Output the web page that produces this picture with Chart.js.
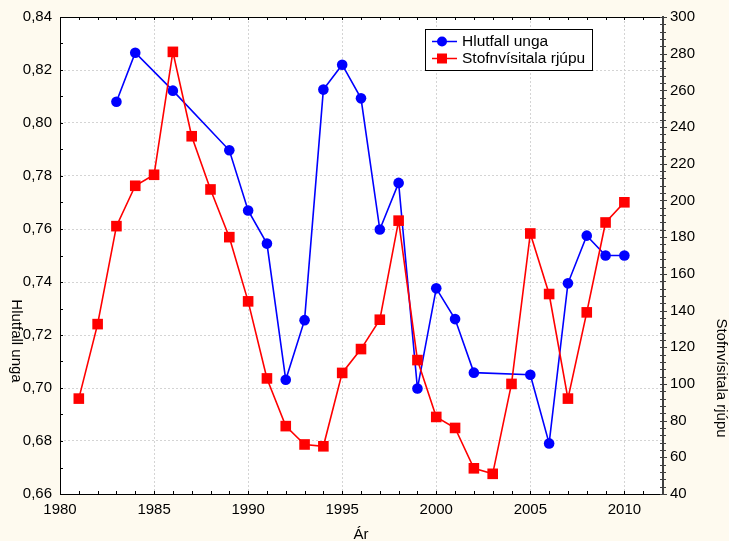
<!DOCTYPE html>
<html>
<head>
<meta charset="utf-8">
<script src="https://cdn.jsdelivr.net/npm/chart.js@4.4.0/dist/chart.umd.min.js"></script>
<style>
  html, body { margin: 0; padding: 0; background: #fefaef; }
  #wrap { width: 729px; height: 541px; }
</style>
</head>
<body>
<div id="wrap"><canvas id="c" width="729" height="541"></canvas></div>
<script>
// ---- data ----
const years = [1981,1982,1983,1984,1985,1986,1987,1988,1989,1990,1991,1992,1993,1994,1995,1996,1997,1998,1999,2000,2001,2002,2003,2004,2005,2006,2007,2008,2009,2010];
const hlutfallUnga = [null,null,0.808,0.8265,null,0.8122,null,null,0.7897,0.767,0.7545,0.7031,0.7256,0.8126,0.822,0.8093,0.7598,0.7774,0.6998,0.7376,0.726,0.7058,null,null,0.705,0.6791,0.7395,0.7575,0.75,0.75];
const stofnvisitala = [92,132.6,186,208,214,281,235,206,180,145,103,77,67,66,106,119,135,189,113,82,76,54,51,100,182,149,92,139,188,199];
const xTickLabels = [1980,1985,1990,1995,2000,2005,2010];
const leftTicks = [0.66,0.68,0.70,0.72,0.74,0.76,0.78,0.80,0.82,0.84];
const rightTicks = [40,60,80,100,120,140,160,180,200,220,240,260,280,300];
const seriesNames = ['Hlutfall unga','Stofnvísitala rjúpu'];
const axisTitles = {x:'Ár', left:'Hlutfall unga', right:'Stofnvísitala rjúpu'};

const FONT = '15px "Liberation Sans", Arial, sans-serif';
const BLUE = '#0000ff', RED = '#ff0000';

const bgPlugin = {
  id: 'bg',
  beforeDraw(chart) {
    const {ctx, chartArea: a} = chart;
    ctx.save();
    ctx.fillStyle = '#fefaef';
    ctx.fillRect(0, 0, chart.width, chart.height);
    ctx.fillStyle = '#ffffff';
    ctx.fillRect(a.left, a.top, a.right - a.left, a.bottom - a.top);
    ctx.restore();
  }
};

const framePlugin = {
  id: 'frame',
  afterDraw(chart) {
    const {ctx, chartArea: a, scales} = chart;
    const sx = scales.x, sy = scales.y, sy1 = scales.y1;
    ctx.save();
    ctx.strokeStyle = '#000';
    ctx.lineWidth = 1;
    ctx.beginPath();
    ctx.moveTo(a.left + 0.5, a.bottom + 0.5);
    ctx.lineTo(a.left + 0.5, a.top + 0.5);
    ctx.lineTo(a.right, a.top + 0.5);
    ctx.moveTo(a.left, a.bottom + 0.5);
    ctx.lineTo(a.right, a.bottom + 0.5);
    ctx.stroke();
    ctx.beginPath();
    for (let yv = 1980; yv <= 2012; yv++) {
      const px = Math.round(sx.getPixelForValue(yv)) + 0.5;
      ctx.moveTo(px, a.top); ctx.lineTo(px, a.top + 3);
      ctx.moveTo(px, a.bottom); ctx.lineTo(px, a.bottom - 3);
    }
    for (let i = 0; i <= 18; i++) {
      const v = 0.66 + i * 0.01;
      const py = Math.round(sy.getPixelForValue(v)) + 0.5;
      ctx.moveTo(a.left, py); ctx.lineTo(a.left + 3, py);
    }
    ctx.stroke();
    ctx.strokeStyle = '#404040';
    ctx.lineWidth = 2;
    ctx.beginPath();
    ctx.moveTo(a.right + 1, a.top - 1);
    ctx.lineTo(a.right + 1, a.bottom + 1);
    ctx.stroke();
    ctx.lineWidth = 1;
    ctx.beginPath();
    for (let v = 40; v <= 300; v += 4) {
      const py = Math.round(sy1.getPixelForValue(v)) + 0.5;
      ctx.moveTo(a.right - 2, py); ctx.lineTo(a.right + 4, py);
    }
    for (const v of rightTicks) {
      const py = Math.round(sy1.getPixelForValue(v)) + 0.5;
      ctx.moveTo(a.right - 2, py); ctx.lineTo(a.right + 5, py);
    }
    ctx.stroke();
    ctx.restore();
  }
};

const textPlugin = {
  id: 'texts',
  afterDraw(chart) {
    const {ctx, chartArea: a} = chart;
    ctx.save();
    ctx.font = FONT;
    ctx.fillStyle = '#000';
    ctx.textBaseline = 'middle';
    ctx.textAlign = 'center';
    ctx.fillText(axisTitles.x, (a.left + a.right) / 2, 535);
    ctx.save();
    ctx.translate(16, 341);
    ctx.rotate(Math.PI / 2);
    ctx.fillText(axisTitles.left, 0, 0);
    ctx.restore();
    ctx.save();
    ctx.translate(721, 378);
    ctx.rotate(Math.PI / 2);
    ctx.fillText(axisTitles.right, 0, 0);
    ctx.restore();

    const bx = 425.5, by = 29.5, bw = 167, bh = 41;
    ctx.fillStyle = '#fff';
    ctx.fillRect(bx, by, bw, bh);
    ctx.strokeStyle = '#000';
    ctx.lineWidth = 1;
    ctx.strokeRect(bx, by, bw, bh);
    const rows = [{y: 41.5, c: BLUE, shape: 'circle'}, {y: 58.5, c: RED, shape: 'rect'}];
    ctx.font = '15.5px "Liberation Sans", Arial, sans-serif';
    rows.forEach((r, i) => {
      ctx.strokeStyle = r.c;
      ctx.lineWidth = 1.5;
      ctx.beginPath();
      ctx.moveTo(432, r.y); ctx.lineTo(457, r.y);
      ctx.stroke();
      ctx.fillStyle = r.c;
      if (r.shape === 'circle') {
        ctx.beginPath(); ctx.arc(442, r.y, 5, 0, Math.PI * 2); ctx.fill();
      } else {
        ctx.fillRect(437, r.y - 5, 10, 10);
      }
      ctx.fillStyle = '#000';
      ctx.textAlign = 'left';
      ctx.fillText(seriesNames[i], 462, r.y + 0.5);
    });
    ctx.restore();
  }
};

const blueData = years.map((y, i) => ({x: y, y: hlutfallUnga[i]}));
const redData = years.map((y, i) => ({x: y, y: stofnvisitala[i]}));

new Chart(document.getElementById('c'), {
  type: 'line',
  data: {
    datasets: [
      {
        label: seriesNames[1], data: redData, yAxisID: 'y1',
        borderColor: RED, backgroundColor: RED, borderWidth: 1.6,
        pointStyle: 'rect', pointRadius: 7.5, pointBorderWidth: 0,
        pointBackgroundColor: RED, tension: 0, spanGaps: true
      },
      {
        label: seriesNames[0], data: blueData, yAxisID: 'y',
        borderColor: BLUE, backgroundColor: BLUE, borderWidth: 1.6,
        pointStyle: 'circle', pointRadius: 5.3, pointBorderWidth: 0,
        pointBackgroundColor: BLUE, tension: 0, spanGaps: true
      }
    ]
  },
  options: {
    responsive: false,
    animation: false,
    devicePixelRatio: 1,
    layout: { padding: { top: 14, left: 0, right: 0, bottom: 0 } },
    plugins: { legend: { display: false }, tooltip: { enabled: false } },
    scales: {
      x: {
        type: 'linear', min: 1980, max: 2012,
        afterBuildTicks(s) { s.ticks = xTickLabels.map(v => ({value: v})); },
        afterFit(s) { s.height = 47; },
        ticks: { color: '#000', font: { family: '"Liberation Sans", Arial, sans-serif', size: 15 }, padding: 7, maxRotation: 0, autoSkip: false,
                 callback: v => String(v) },
        grid: { color: '#d4d4d4', lineWidth: 1, drawTicks: false },
        border: { display: false, dash: [2, 2] }
      },
      y: {
        type: 'linear', position: 'left', min: 0.66, max: 0.84,
        afterBuildTicks(s) { s.ticks = leftTicks.map(v => ({value: v})); },
        afterFit(s) { s.width = 60; },
        ticks: { color: '#000', font: { family: '"Liberation Sans", Arial, sans-serif', size: 15 }, padding: 8, autoSkip: false,
                 callback: v => v.toFixed(2).replace('.', ',') },
        grid: { color: '#d4d4d4', lineWidth: 1, drawTicks: false },
        border: { display: false, dash: [2, 2] }
      },
      y1: {
        type: 'linear', position: 'right', min: 40, max: 300,
        afterBuildTicks(s) { s.ticks = rightTicks.map(v => ({value: v})); },
        afterFit(s) { s.width = 67; },
        ticks: { color: '#000', font: { family: '"Liberation Sans", Arial, sans-serif', size: 15 }, padding: 8, autoSkip: false,
                 callback: v => String(v) },
        grid: { display: false, drawTicks: false },
        border: { display: false }
      }
    }
  },
  plugins: [bgPlugin, framePlugin, textPlugin]
});
</script>
</body>
</html>
